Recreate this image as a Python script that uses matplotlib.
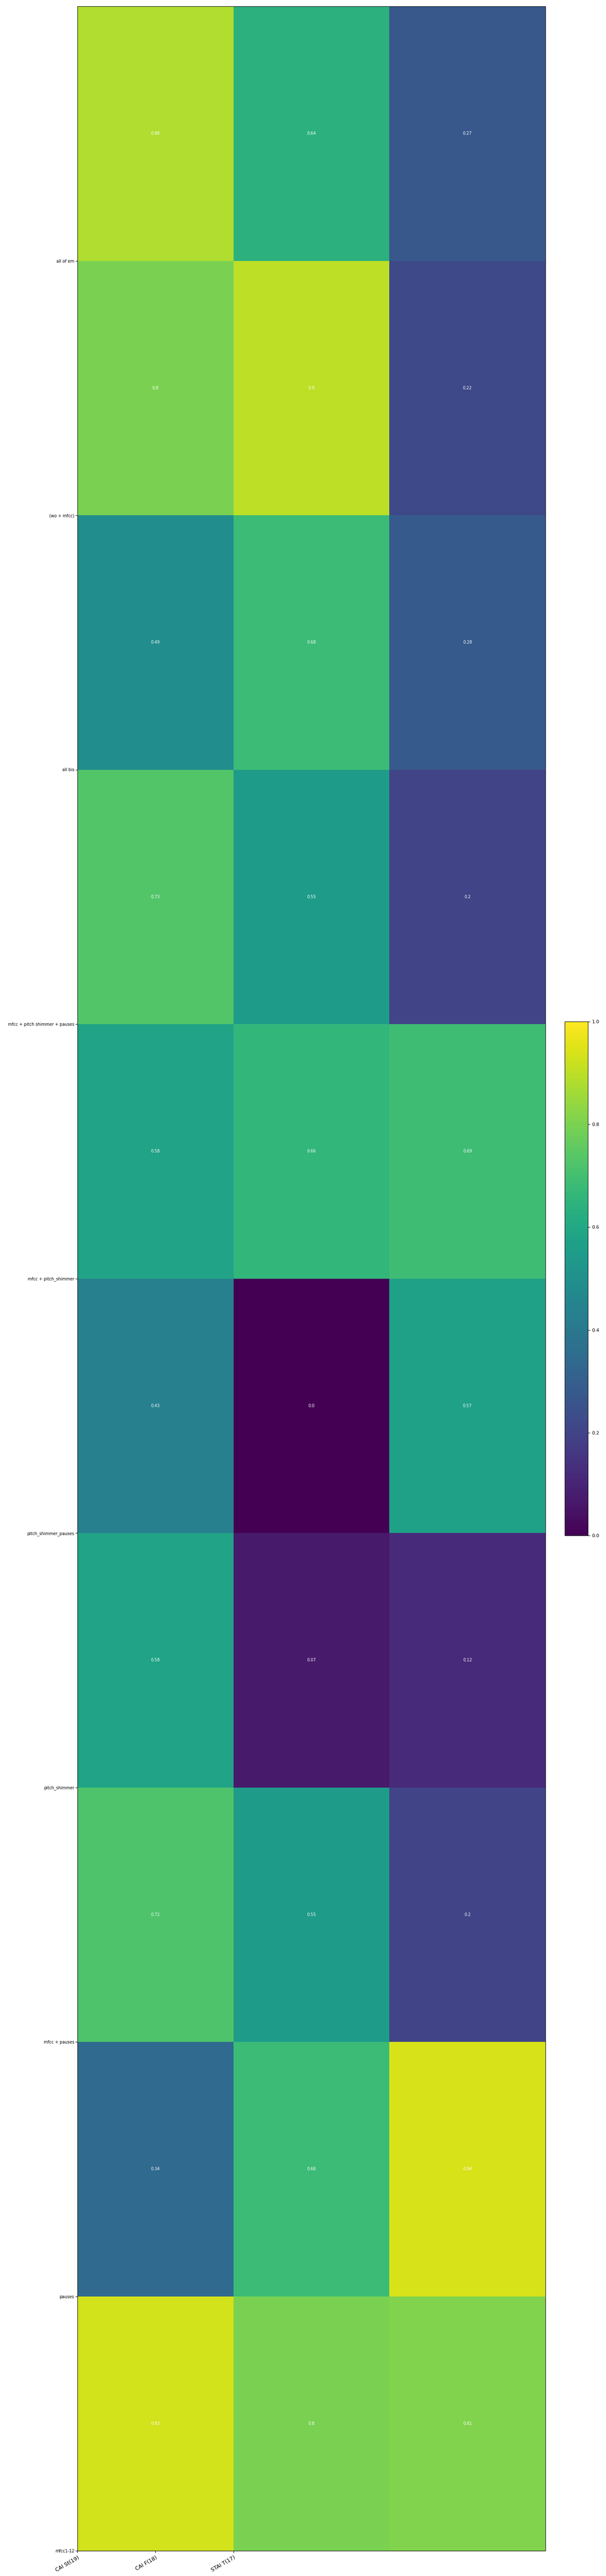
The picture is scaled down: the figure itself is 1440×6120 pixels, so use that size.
import numpy as np
import matplotlib
matplotlib.use("Agg")
import matplotlib.pyplot as plt

# rows (top to bottom) and target columns
feature_sets = ["all of em", "(wo + mfcc)", "all bis", "mfcc + pitch shimmer + pauses",
                "mfcc + pitch_shimmer", "pitch_shimmer_pauses", "pitch_shimmer",
                "mfcc + pauses", "pauses", "mfcc1-12"]
targets = ["CAI St(19)", "CAI F(18)", "STAI T(17)"]

cai_st = [0.88, 0.8, 0.49, 0.73, 0.58, 0.43, 0.58, 0.72, 0.34, 0.93]
cai_f = [0.64, 0.9, 0.68, 0.55, 0.66, 0.0, 0.07, 0.55, 0.68, 0.8]
stai_t = [0.27, 0.22, 0.28, 0.2, 0.69, 0.57, 0.12, 0.2, 0.94, 0.81]

scores = np.array([cai_st, cai_f, stai_t]).T

fig = plt.figure(figsize=(14.4, 61.2), dpi=100)
ax = fig.add_axes([184 / 1440, 1 - 6060 / 6120, (1296 - 184) / 1440, (6060 - 15) / 6120])
cax = fig.add_axes([1342 / 1440, 1 - 3648 / 6120, 55 / 1440, (3648 - 2427) / 6120])

n_rows, n_cols = scores.shape
mesh = ax.pcolormesh(np.arange(n_cols + 1), np.arange(n_rows + 1), scores,
                     cmap="viridis", vmin=0, vmax=1)
ax.set_xlim(0, n_cols)
ax.set_ylim(n_rows, 0)

# annotate each cell
for i in range(n_rows):
    for j in range(n_cols):
        ax.text(j + 0.5, i + 0.5, str(round(scores[i, j], 2)),
                ha="center", va="center", color="white", fontsize=7)

# ticks sit on cell edges, like the original
ax.set_yticks(np.arange(1, n_rows + 1))
ax.set_yticklabels(feature_sets, fontsize=7)
ax.tick_params(axis="y", pad=2)
ax.set_xticks(np.arange(n_cols) / 2)
ax.set_xticklabels(targets, fontsize=9, rotation=30, ha="right", rotation_mode="anchor")

cb = fig.colorbar(mesh, cax=cax)
cb.set_ticks(np.arange(0, 1.01, 0.2))
cb.ax.tick_params(labelsize=8)

fig.savefig("out.png", dpi=100)
plt.close(fig)
